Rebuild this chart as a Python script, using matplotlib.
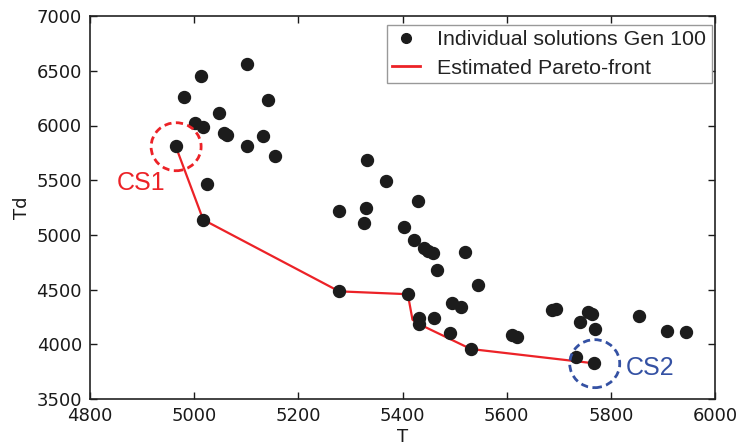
import matplotlib
matplotlib.use("Agg")
import matplotlib.pyplot as plt
from matplotlib.patches import Ellipse
from matplotlib.lines import Line2D

# Individual solutions (T, Td)
sol_T = [4964, 4980, 5012, 5101, 5001, 5016, 5047, 5057, 5063, 5102,
         5142, 5132, 5154, 5024, 5017, 5331, 5368, 5278, 5329, 5326,
         5403, 5278, 5410, 5429, 5421, 5441, 5449, 5458, 5520, 5467,
         5544, 5494, 5512, 5431, 5431, 5461, 5491, 5531, 5611, 5620,
         5686, 5695, 5741, 5757, 5764, 5769, 5854, 5908, 5944, 5733,
         5768]
sol_Td = [5813, 6258, 6450, 6559, 6026, 5989, 6111, 5934, 5916, 5815,
          6233, 5901, 5721, 5463, 5139, 5687, 5490, 5214, 5250, 5111,
          5074, 4484, 4458, 5310, 4953, 4878, 4856, 4832, 4846, 4676,
          4542, 4380, 4341, 4238, 4186, 4238, 4100, 3957, 4085, 4064,
          4314, 4325, 4207, 4292, 4277, 4140, 4261, 4122, 4115, 3884,
          3826]

# Estimated Pareto front
pf_T = [4964, 5017, 5278, 5410, 5419, 5431, 5531, 5768]
pf_Td = [5813, 5139, 4484, 4458, 4225, 4186, 3957, 3826]

# Highlighted cases
cs_labels = ["CS1", "CS2"]
cs_T = [4965, 5769]
cs_Td = [5806, 3823]
cs_label_T = [4898, 5876]
cs_label_Td = [5474, 3783]
cs_colors = ["#ec2227", "#3451a3"]

xticks = [4800, 5000, 5200, 5400, 5600, 5800, 6000]
yticks = [3500, 4000, 4500, 5000, 5500, 6000, 6500, 7000]
legend_labels = ["Individual solutions Gen 100", "Estimated Pareto-front"]

plt.rcParams['font.family'] = ['DejaVu Sans']
fig = plt.figure(figsize=(7.4, 4.47), dpi=100)
ax = fig.add_axes([90.2/740, 1-399/447, (715-90.2)/740, (399-16.1)/447])

ax.plot(pf_T, pf_Td, color="#ec2227", lw=1.6, zorder=2)
ax.plot(sol_T, sol_Td, linestyle="none", marker="o", ms=8.6,
        color="#1c1c1c", zorder=3)

ax.set_xlim(4800, 6000)
ax.set_ylim(3500, 7000)
ax.set_xticks(xticks)
ax.set_yticks(yticks)

# circles: ~25 px radius in display
px_per_x = (715-90.2)/1200
px_per_y = (399-16.1)/3500
for lab, cx, cy, lx, ly, c in zip(cs_labels, cs_T, cs_Td, cs_label_T, cs_label_Td, cs_colors):
    e = Ellipse((cx, cy), width=2*25/px_per_x, height=2*24/px_per_y,
                fill=False, edgecolor=c, lw=2.0, linestyle=(0, (2.6, 1.6)), zorder=4)
    ax.add_patch(e)
    ax.text(lx, ly, lab, color=c, fontsize=18, ha="center", va="center",
            family=["Liberation Sans"], zorder=5)

ax.tick_params(direction="in", length=5, width=1, top=True, right=True,
               labelsize=13, colors="#1a1a1a", pad=6)
for s in ax.spines.values():
    s.set_linewidth(1.2)
    s.set_color("#222222")

ax.set_xlabel("T", fontsize=13, color="#1a1a1a", labelpad=2)
ax.set_ylabel("Td", fontsize=13, color="#1a1a1a", labelpad=4)

handles = [Line2D([], [], linestyle="none", marker="o", ms=7, color="#1c1c1c"),
           Line2D([], [], color="#ec2227", lw=2)]
leg = ax.legend(handles, legend_labels,
                loc="upper right", bbox_to_anchor=(0.9947, 0.9768), borderaxespad=0,
                fancybox=False, framealpha=1, edgecolor="#999999",
                prop={"family": ["Liberation Sans"], "size": 15.4},
                handlelength=1.3, handletextpad=0.8, borderpad=0.25,
                labelspacing=0.45)
leg.get_frame().set_linewidth(1.0)
for t in leg.get_texts():
    t.set_color("#222222")

fig.savefig("out.png", dpi=100)
